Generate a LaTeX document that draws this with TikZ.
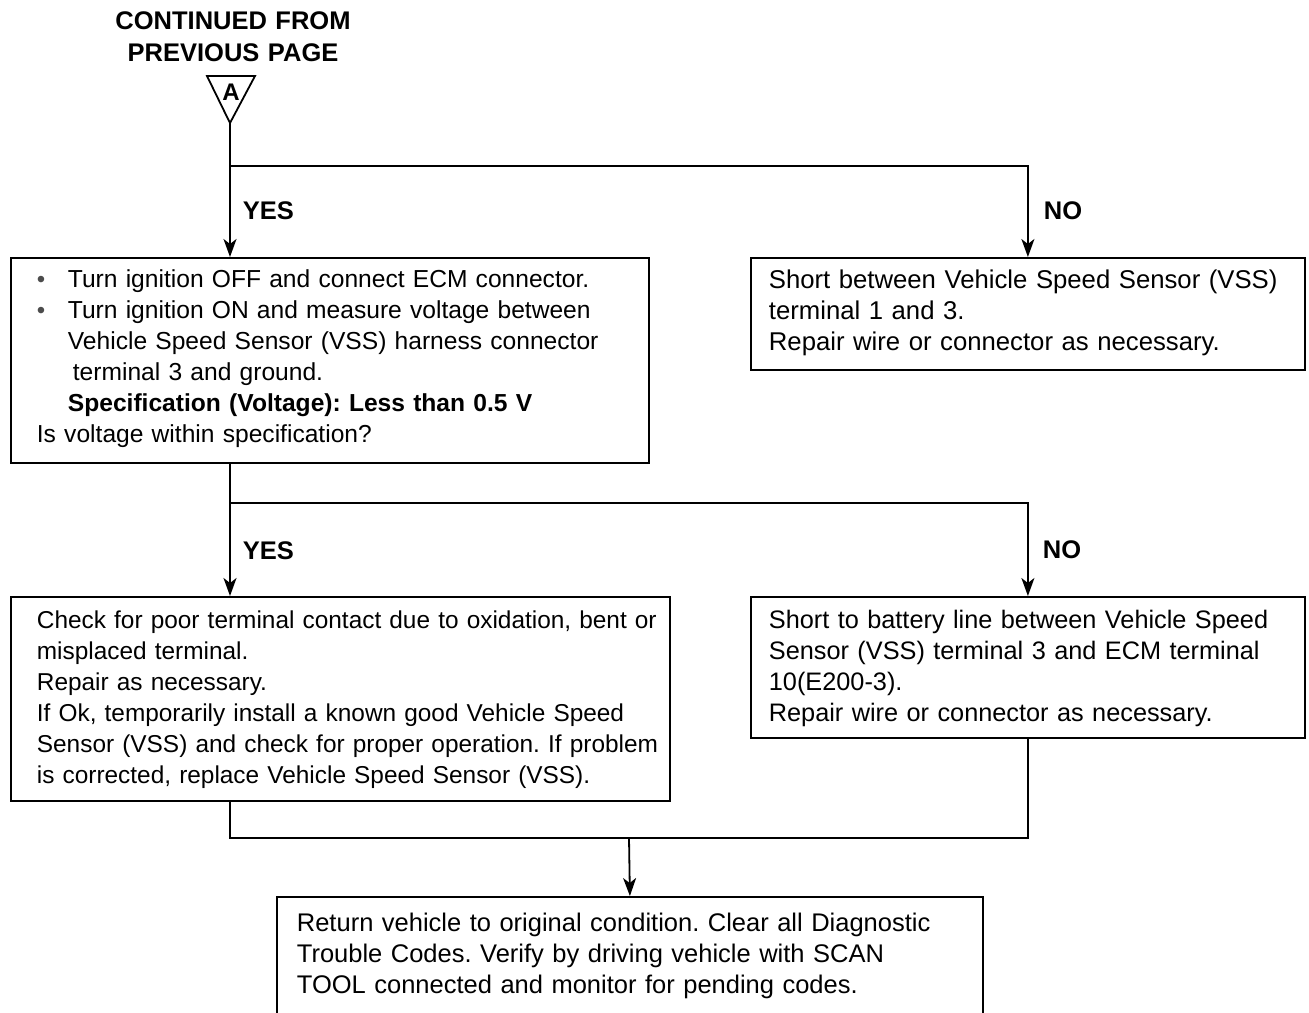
\documentclass[tikz,border=0pt]{standalone}
\usepackage{fontspec}
\setmainfont{Liberation Sans}
\usetikzlibrary{arrows.meta}
\newcommand\bulitem{\makebox[31pt][l]{\raisebox{-0.8pt}{\color{black!70}\fontsize{24}{24}\selectfont\textbullet}}}
\begin{document}
\frenchspacing
\begin{tikzpicture}[x=1pt,y=-1pt,
  line width=1.8pt,
  flow/.style={draw, line width=1.8pt, inner sep=0pt, anchor=north west},
  txt/.style={align=left, text width=700pt, inner sep=0pt, anchor=base west, font=\fontsize{#1}{31}\selectfont\frenchspacing},
  lbl/.style={inner sep=0pt, anchor=base west, font=\fontsize{25.5}{31}\selectfont\bfseries},
  arr/.style={-{Stealth[length=18pt,width=13pt,inset=5pt]}},
]
\useasboundingbox (0,0) rectangle (1309,1012);
\clip (0,0) rectangle (1309,1012);

% heading and off-page connector
\node[inner sep=0pt, anchor=base, align=center, text width=400pt, font=\fontsize{25.5}{32}\selectfont\bfseries] (title) at (233,29) {CONTINUED FROM\\PREVIOUS PAGE};
\draw (207,76) -- (255,76) -- (230,123) -- cycle;
\node[inner sep=0pt, anchor=base, font=\fontsize{24}{24}\selectfont\bfseries] (markA) at (231,100) {A};
\coordinate (a) at (230,123);

% boxes
\node[flow, minimum width=638pt, minimum height=205pt] (b1) at (10,257) {};
\node[flow, minimum width=554pt, minimum height=112pt] (b2) at (750,257) {};
\node[flow, minimum width=659pt, minimum height=204pt] (b3) at (10,596) {};
\node[flow, minimum width=554pt, minimum height=141pt] (b4) at (750,596) {};
\node[flow, minimum width=706pt, minimum height=150pt] (b5) at (276,896) {};

% box texts
\node[txt=24.6] (t1) at (36,287) {\bulitem Turn ignition OFF and connect ECM connector.\\
\bulitem Turn ignition ON and measure voltage between\\
\hspace*{31pt}Vehicle Speed Sensor (VSS) harness connector\\
\hspace*{36pt}terminal 3 and ground.\\
\hspace*{31pt}\textbf{Specification (Voltage): Less than 0.5 V}\\
Is voltage within specification?};
\node[txt=25.7] (t2) at (768,288) {Short between Vehicle Speed Sensor (VSS)\\
terminal 1 and 3.\\
Repair wire or connector as necessary.};
\node[txt=24.4] (t3) at (36,628) {Check for poor terminal contact due to oxidation, bent or\\
misplaced terminal.\\
Repair as necessary.\\
If Ok, temporarily install a known good Vehicle Speed\\
Sensor (VSS) and check for proper operation. If problem\\
is corrected, replace Vehicle Speed Sensor (VSS).};
\node[txt=25.3] (t4) at (768,628) {Short to battery line between Vehicle Speed\\
Sensor (VSS) terminal 3 and ECM terminal\\
10(E200-3).\\
Repair wire or connector as necessary.};
\node[txt=25.5] (t5) at (296,931) {Return vehicle to original condition. Clear all Diagnostic\\
Trouble Codes. Verify by driving vehicle with SCAN\\
TOOL connected and monitor for pending codes.};

% branch labels
\node[lbl] (yes1) at (242,219) {YES};
\node[lbl] (no1) at (1043,219) {NO};
\node[lbl] (yes2) at (242,559) {YES};
\node[lbl] (no2) at (1042,558) {NO};

% connectors
\coordinate (s1) at (230,166);
\draw[arr] (a) -- (a |- b1.north);
\draw[arr] (s1) -| (b2.north);
\coordinate (s2) at (230,503);
\draw[arr] (b1.south -| s2) -- (s2 |- b3.north);
\draw[arr] (s2) -| (b4.north);
\coordinate (m) at (629,838);
\draw (b3.south -| s2) |- (m -| b4.south) -- (b4.south);
\draw[arr] (m) -- (b5.north);
\end{tikzpicture}
\end{document}
